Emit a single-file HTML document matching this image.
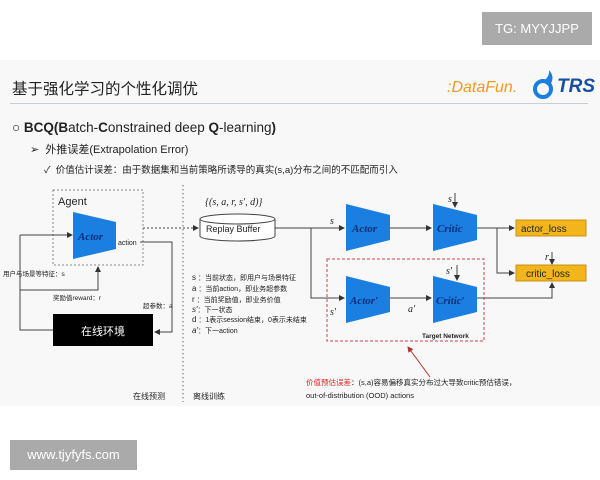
<!DOCTYPE html>
<html><head><meta charset="utf-8"><style>
body{margin:0;width:600px;height:480px;background:#fff;position:relative;overflow:hidden;font-family:"Liberation Sans","Noto Sans CJK SC",sans-serif}
.t{position:absolute;white-space:nowrap;color:#222}
</style></head><body>
<div style="position:absolute;left:0;top:60px;width:600px;height:346px;background:#f8f8f8"></div>
<div class="t" style="left:482px;top:12px;width:110px;height:33px;background:#aaa;color:#fff;font-size:13px;line-height:33px;text-align:center">TG: MYYJJPP</div>
<div class="t" style="left:10px;top:440px;width:127px;height:30px;background:#aaa;color:#fff;font-size:13px;line-height:30px;text-align:center">www.tjyfyfs.com</div>
<div class="t" style="left:12px;top:77px;font-size:15.5px;color:#222">基于强化学习的个性化调优</div>
<div class="t" style="left:447px;top:79px;font-size:16px;font-style:italic;color:#f09a1a">:DataFun.</div>
<div class="t" style="left:557px;top:76px;font-size:19px;font-weight:bold;font-style:italic;color:#1a4fa0">TRS</div>
<div style="position:absolute;left:10px;top:103px;width:578px;height:1px;background:#c8ccd4"></div>
<div class="t" style="left:12px;top:120px;font-size:13.5px">○ <b>BCQ(B</b>atch-<b>C</b>onstrained deep <b>Q</b>-learning<b>)</b></div>
<div class="t" style="left:30px;top:141px;font-size:11px">➢&nbsp; 外推误差(Extrapolation Error)</div>
<div class="t" style="left:44px;top:162px;font-size:9.5px">✓&nbsp; 价值估计误差：由于数据集和当前策略所诱导的真实(s,a)分布之间的不匹配而引入</div>
<svg style="position:absolute;left:0;top:0" width="600" height="480">
<defs><marker id="a" markerWidth="6" markerHeight="6" refX="5" refY="3" orient="auto"><path d="M0,0L6,3L0,6z" fill="#333"/></marker>
<marker id="r" markerWidth="6" markerHeight="6" refX="5" refY="3" orient="auto"><path d="M0,0L6,3L0,6z" fill="#a33"/></marker></defs>
<circle cx="543" cy="89" r="8" fill="none" stroke="#1a7fe0" stroke-width="4"/>
<path d="M543,82 Q550,76 549,70 Q556,78 549,86z" fill="#1a7fe0"/>
<g fill="none" stroke="#444" stroke-width="1">
<rect x="53" y="190" width="90" height="75" stroke="#888" stroke-dasharray="2,2"/>
<line x1="183" y1="185" x2="183" y2="402" stroke="#666" stroke-dasharray="1.5,2.5"/>
<line x1="143" y1="228" x2="198" y2="228" stroke-dasharray="2,2" marker-end="url(#a)"/>
<polyline points="20,235 20,330 53,330"/>
<line x1="20" y1="235" x2="72" y2="235" marker-end="url(#a)"/>
<polyline points="20,290 98,290 98,267" marker-end="url(#a)"/>
<polyline points="140,242 172,242 172,332 155,332" marker-end="url(#a)"/>
<line x1="275" y1="228" x2="344" y2="228" marker-end="url(#a)"/>
<polyline points="311,228 311,298 344,298" marker-end="url(#a)"/>
<line x1="390" y1="228" x2="431" y2="228" marker-end="url(#a)"/>
<line x1="390" y1="298" x2="431" y2="298" marker-end="url(#a)"/>
<line x1="455" y1="193" x2="455" y2="207" marker-end="url(#a)"/>
<line x1="457" y1="265" x2="457" y2="280" marker-end="url(#a)"/>
<line x1="477" y1="228" x2="514" y2="228" marker-end="url(#a)"/>
<polyline points="497,228 497,273 514,273" marker-end="url(#a)"/>
<line x1="552" y1="252" x2="552" y2="264" marker-end="url(#a)"/>
<polyline points="477,298 552,298 552,283" marker-end="url(#a)"/>
<rect x="327" y="259" width="157" height="82" stroke="#d04050" stroke-dasharray="3,2"/>
<line x1="430" y1="377" x2="408" y2="347" stroke="#a33" marker-end="url(#r)"/>
</g>
<path d="M200,219 v17 a37.5,5 0 0 0 75,0 v-17" fill="#fff" stroke="#444"/>
<ellipse cx="237.5" cy="219" rx="37.5" ry="5" fill="#fff" stroke="#444"/>
<g fill="#1a7fe0">
<polygon points="73,212 116,222 116,249 73,259"/>
<polygon points="346,204 390,215 390,240 346,251"/>
<polygon points="433,204 477,215 477,240 433,251"/>
<polygon points="346,276 390,287 390,312 346,323"/>
<polygon points="433,276 477,287 477,312 433,323"/>
</g>
<rect x="53" y="314" width="100" height="32" fill="#000"/>
<rect x="516" y="220" width="70" height="16" fill="#f2b61c" stroke="#c8901a"/>
<rect x="516" y="265" width="70" height="16" fill="#f2b61c" stroke="#c8901a"/>
<g font-family="Liberation Serif,serif" font-style="italic" font-weight="bold" fill="#0b2f7a" font-size="11">
<text x="78" y="240">Actor</text><text x="352" y="232">Actor</text><text x="437" y="232">Critic</text>
<text x="350" y="304">Actor′</text><text x="436" y="304">Critic′</text>
</g>
<g font-family="Liberation Sans,'Noto Sans CJK SC',sans-serif" fill="#222">
<text x="58" y="205" font-size="11">Agent</text>
<text x="118" y="245" font-size="7">action</text>
<text x="206" y="232" font-size="9">Replay Buffer</text>
<text x="521" y="232" font-size="10">actor_loss</text>
<text x="526" y="277" font-size="10">critic_loss</text>
<text x="103" y="335" font-size="11" fill="#fff" text-anchor="middle">在线环境</text>
<text x="3" y="276" font-size="6.5">用户与场景等特征：s</text>
<text x="53" y="300" font-size="6.5">奖励值reward：r</text>
<text x="143" y="308" font-size="6.5">超参数：a</text>
<text x="422" y="338" font-size="6.5" font-weight="bold">Target Network</text>
<text x="133" y="399" font-size="8">在线预测</text>
<text x="193" y="399" font-size="8">离线训练</text>
<text x="306" y="385" font-size="7.5"><tspan fill="#e02020">价值预估误差</tspan>：(s,a)容易偏移真实分布过大导致critic预估错误，</text>
<text x="306" y="398" font-size="7.5">out-of-distribution (OOD) actions</text>
<g font-size="7">
<text x="192" y="280"><tspan font-size="8">s</tspan> ：当前状态，即用户与场景特征</text>
<text x="192" y="291"><tspan font-size="8">a</tspan> ：当前action，即业务超参数</text>
<text x="192" y="302"><tspan font-size="8">r</tspan> ：当前奖励值，即业务价值</text>
<text x="192" y="312"><tspan font-size="8" font-style="italic">s′</tspan>：下一状态</text>
<text x="192" y="322"><tspan font-size="8">d</tspan> ：1表示session结束，0表示未结束</text>
<text x="192" y="333"><tspan font-size="8" font-style="italic">a′</tspan>：下一action</text>
</g>
</g>
<g font-family="Liberation Serif,serif" font-style="italic" fill="#222" font-size="10">
<text x="205" y="205">{(s, a, r, s′, d)}</text>
<text x="330" y="224">s</text><text x="448" y="202">s</text>
<text x="330" y="315">s′</text><text x="408" y="312">a′</text><text x="446" y="274">s′</text>
<text x="545" y="260">r</text>
</g>
</svg>
</body></html>
